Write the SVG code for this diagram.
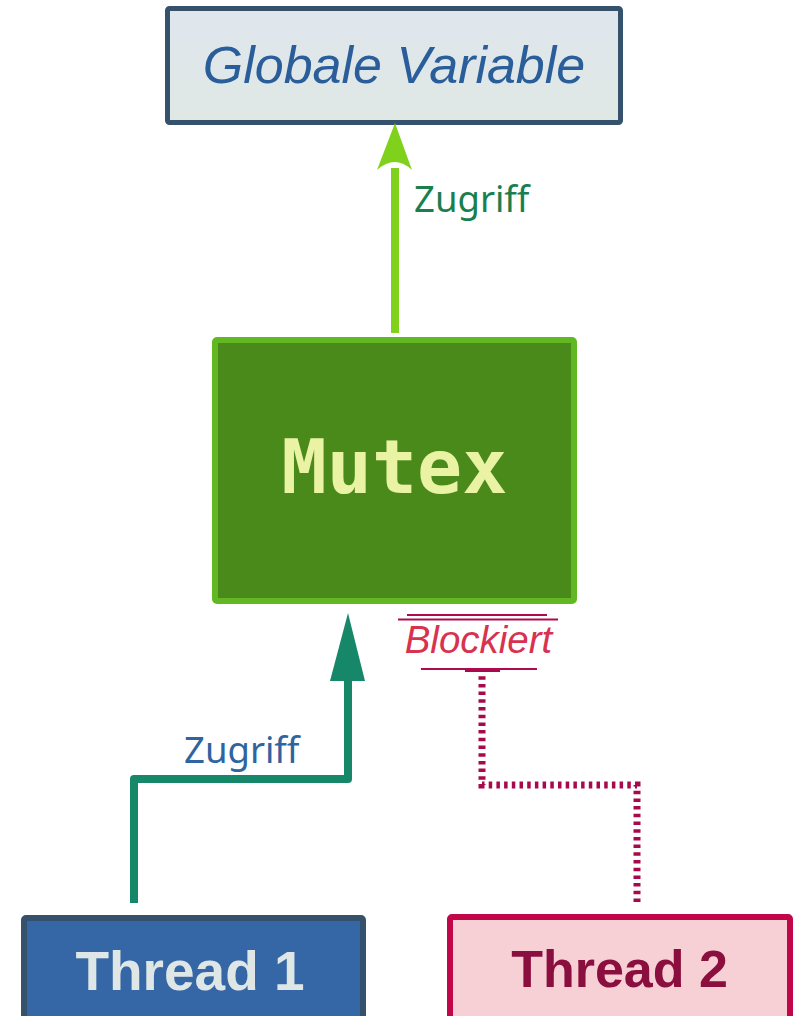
<svg xmlns="http://www.w3.org/2000/svg" width="795" height="1016" viewBox="0 0 795 1016">
<defs>
<linearGradient id="gvGrad" x1="0" y1="0" x2="0" y2="1">
<stop offset="0" stop-color="#dfe6ed"/>
<stop offset="1" stop-color="#dfe8e5"/>
</linearGradient>
<style>
.lbl{font-family:"Noto Sans","Open Sans",sans-serif;font-size:36.5px}
.node-t{font-family:"Liberation Sans",Arial,sans-serif;font-weight:bold}
</style>
</defs>
<rect width="795" height="1016" fill="#ffffff"/>
<g id="node-globale">
<rect x="167.5" y="8.5" width="453" height="114" rx="2" fill="url(#gvGrad)" stroke="#36516b" stroke-width="5"/>
<text x="394" y="83" text-anchor="middle" font-family="Liberation Sans, Arial, sans-serif" font-style="italic" font-size="52" fill="#2a5e9a">Globale Variable</text>
</g>
<g id="node-mutex">
<rect x="215" y="340" width="359" height="261" rx="2" fill="#4a8a1a" stroke="#62b823" stroke-width="6"/>
<text x="394.5" y="493" text-anchor="middle" font-family="DejaVu Sans Mono, Liberation Mono, monospace" font-weight="bold" font-size="75" fill="#eaf2a4">Mutex</text>
</g>
<g id="node-thread1">
<rect x="24" y="918" width="339" height="110" rx="2" fill="#3566a6" stroke="#36516b" stroke-width="6"/>
<text x="190" y="990" text-anchor="middle" class="node-t" font-size="55" fill="#dfe6e6">Thread 1</text>
</g>
<g id="node-thread2">
<rect x="450" y="917" width="340" height="110" rx="2" fill="#f7d0d6" stroke="#c2064a" stroke-width="6"/>
<text x="619.5" y="987" text-anchor="middle" class="node-t" font-size="52" fill="#8a0f3e">Thread 2</text>
</g>
<g id="connectors">
<g id="edge-mutex-globale">
<line x1="395" y1="333" x2="395" y2="168" stroke="#80d11b" stroke-width="8"/>
<path d="M395,123 L412,170 Q395,154 377,170 Z" fill="#80d11b"/>
<text x="414" y="212" class="lbl" fill="#1a7f4f">Zugriff</text>
</g>
<g id="edge-thread1-mutex">
<path d="M134,903 L134,779 L348,779 L348,678" fill="none" stroke="#168769" stroke-width="8" stroke-linejoin="round"/>
<path d="M348,613 L365,681 L330,681 Z" fill="#168769"/>
<text x="184" y="763" class="lbl" fill="#2e64a0">Zugriff</text>
</g>
<g id="edge-thread2-mutex">
<path d="M637,902 L637,785 L482,785 L482,676" fill="none" stroke="#a8084c" stroke-width="7" stroke-dasharray="3.5 4.2"/>
<rect x="465" y="668" width="35" height="4" fill="#a8084c"/>
<line x1="421" y1="669" x2="537" y2="669" stroke="#b0094f" stroke-width="2"/>
<line x1="407" y1="615" x2="547" y2="615" stroke="#b0094f" stroke-width="2"/>
<line x1="398" y1="619.5" x2="558" y2="619.5" stroke="#b0094f" stroke-width="2"/>
<text x="478.5" y="653" text-anchor="middle" font-family="Liberation Sans, Arial, sans-serif" font-style="italic" font-size="38.5" fill="#d8324f">Blockiert</text>
</g>
</g>
</svg>
